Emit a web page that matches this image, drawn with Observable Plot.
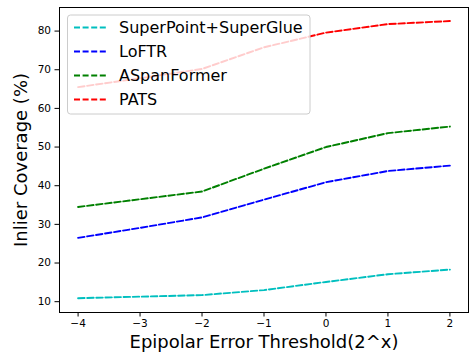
<!DOCTYPE html>
<html>
<head>
<meta charset="utf-8">
<script src="https://cdn.jsdelivr.net/npm/d3@7"></script>
<script src="https://cdn.jsdelivr.net/npm/@observablehq/plot@0.6"></script>
<style>
  html, body { margin: 0; padding: 0; background: #fff; }
  svg { font-family: "DejaVu Sans", sans-serif; }
</style>
</head>
<body>
<div id="chart"></div>
<script>
const xs = [-4, -3, -2, -1, 0, 1, 2];
const seriesNames = ["SuperPoint+SuperGlue", "LoFTR", "ASpanFormer", "PATS"];
const seriesColors = ["#00bfbf", "#0000ff", "#008000", "#ff0000"];
const spsg = [10.9, 11.3, 11.7, 13.0, 15.1, 17.1, 18.3];
const loftr = [26.5, 29.1, 31.8, 36.4, 40.9, 43.8, 45.2];
const aspan = [34.5, 36.5, 38.5, 44.4, 50.0, 53.6, 55.3];
const pats = [65.5, 67.8, 70.2, 75.8, 79.6, 81.8, 82.6];
const xTicks = [-4, -3, -2, -1, 0, 1, 2];
const yTicks = [10, 20, 30, 40, 50, 60, 70, 80];
const xLabel = "Epipolar Error Threshold(2^x)";
const yLabel = "Inlier Coverage (%)";

const allValues = [spsg, loftr, aspan, pats];
const data = [];
seriesNames.forEach((name, i) => {
  xs.forEach((x, j) => data.push({series: name, x, y: allValues[i][j]}));
});

const chart = Plot.plot({
  width: 469,
  height: 353,
  marginLeft: 59,
  marginRight: 1,
  marginTop: 7,
  marginBottom: 41,
  style: {fontFamily: "DejaVu Sans, sans-serif", background: "#fff", color: "#000"},
  x: {domain: [-4.3, 2.3]},
  y: {domain: [7.2, 86.1]},
  color: {domain: seriesNames, range: seriesColors},
  marks: [
    Plot.line(data, {x: "x", y: "y", stroke: "series", strokeWidth: 1.9, strokeDasharray: "6.5,2.6", curve: "linear"}),
    Plot.frame({stroke: "#000", strokeWidth: 1}),
    Plot.axisX({ticks: xTicks, tickSize: 4.5, tickPadding: 3, fontSize: 10.5, label: null, tickFormat: d => d < 0 ? "\u2212" + Math.abs(d) : String(d)}),
    Plot.axisY({ticks: yTicks, tickSize: 4.5, tickPadding: 4, fontSize: 10.5, label: null}),
    Plot.text([xLabel], {frameAnchor: "bottom", dy: 35, fontSize: 18, fill: "#000", textAnchor: "middle"}),
    Plot.text([yLabel], {frameAnchor: "left", dx: -38, rotate: -90, fontSize: 18, fill: "#000", textAnchor: "middle"})
  ]
});

// Legend overlay (matplotlib style, upper left, semi-transparent white box)
const svg = d3.select(chart);
const lg = svg.append("g");
const lx = 67.5, ly = 15, lw = 242.5, lh = 99;
lg.append("rect").attr("x", lx).attr("y", ly).attr("width", lw).attr("height", lh)
  .attr("rx", 3).attr("fill", "#fff").attr("fill-opacity", 0.8)
  .attr("stroke", "#cccccc").attr("stroke-width", 1);
seriesNames.forEach((name, i) => {
  const cy = 27.5 + i * 24;
  lg.append("line").attr("x1", 74).attr("x2", 106).attr("y1", cy).attr("y2", cy)
    .attr("stroke", seriesColors[i]).attr("stroke-width", 1.9).attr("stroke-dasharray", "6,2.6");
  lg.append("text").attr("x", 119).attr("y", cy).attr("dy", "0.35em")
    .attr("text-anchor", "start")
    .attr("font-size", 16).attr("fill", "#000").text(name);
});

document.getElementById("chart").appendChild(chart);
</script>
</body>
</html>
